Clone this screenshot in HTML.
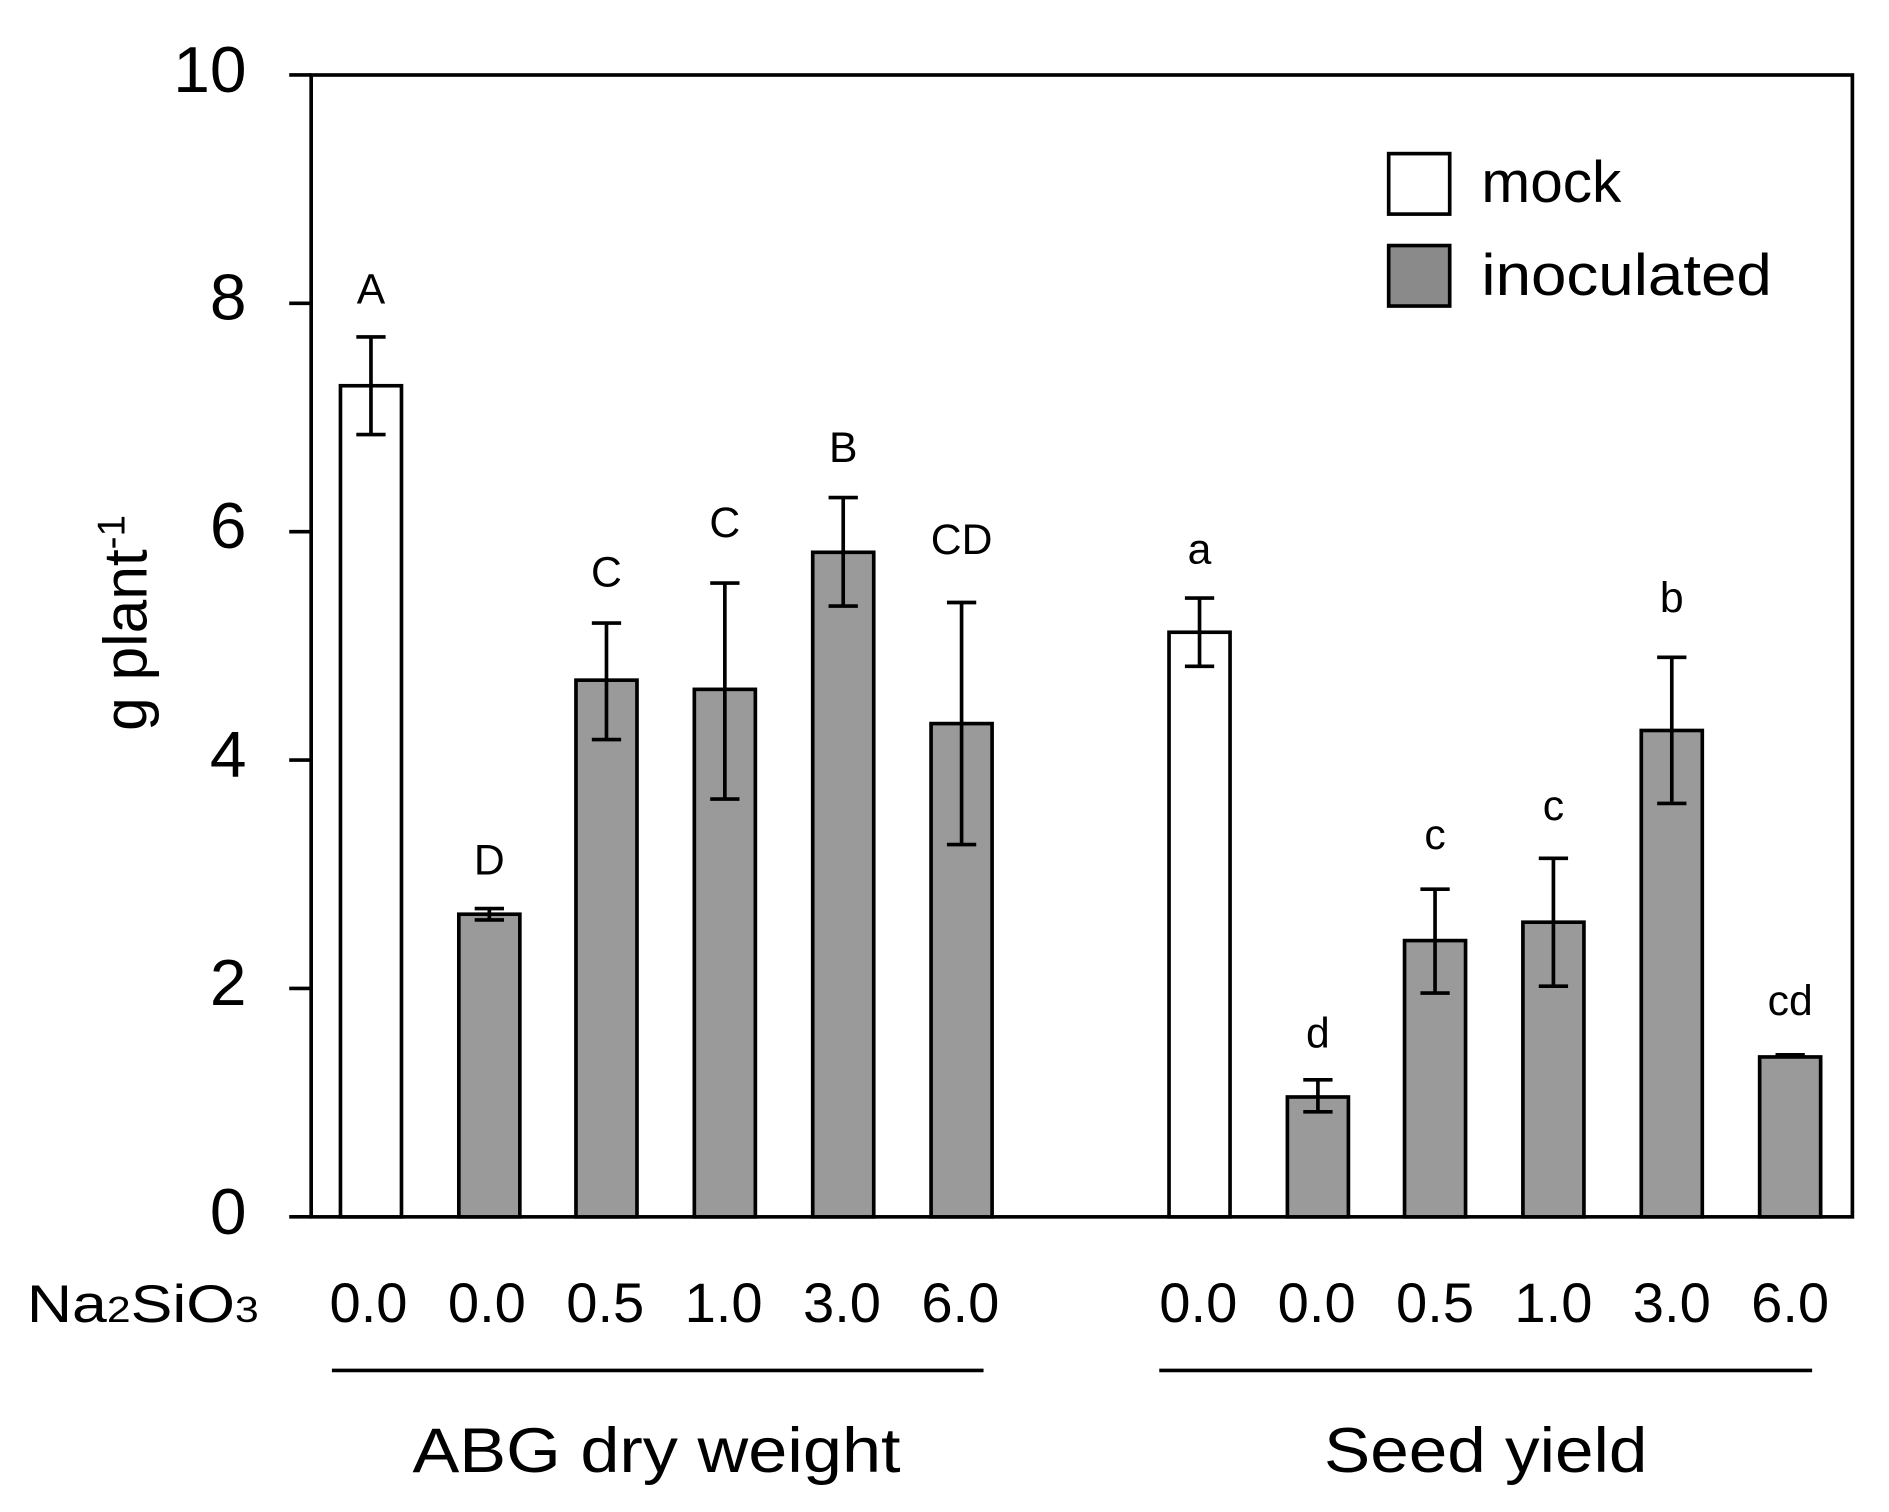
<!DOCTYPE html>
<html><head><style>html,body{margin:0;padding:0;background:#fff}svg{display:block}</style></head><body>
<svg width="1889" height="1512" viewBox="0 0 1548 1250" preserveAspectRatio="none" xmlns="http://www.w3.org/2000/svg" font-family="Liberation Sans, Arial, sans-serif">
<rect width="1548" height="1250" fill="#fff"/>
<g stroke="#000" stroke-width="3" fill="none">
<rect x="255" y="62" width="1263" height="944"/>
<line x1="237" y1="62" x2="255" y2="62"/><line x1="237" y1="250.8" x2="255" y2="250.8"/><line x1="237" y1="439.6" x2="255" y2="439.6"/><line x1="237" y1="628.4" x2="255" y2="628.4"/><line x1="237" y1="817.2" x2="255" y2="817.2"/><line x1="237" y1="1006" x2="255" y2="1006"/>
<line x1="272" y1="1133" x2="806" y2="1133"/><line x1="950" y1="1133" x2="1485" y2="1133"/>
</g>
<g font-size="54" text-anchor="end" fill="#000">
<text x="202" y="76">10</text><text x="202" y="264">8</text><text x="202" y="453">6</text><text x="202" y="642">4</text><text x="202" y="831">2</text><text x="202" y="1020">0</text>
</g>
<text transform="translate(120,515) rotate(-90)" font-size="50" text-anchor="middle">g plant<tspan font-size="32" dy="-18">-1</tspan></text>
<g stroke="#000" stroke-width="3">
<rect x="279" y="318.9" width="50" height="687.1" fill="#fff"/>
<rect x="376" y="755.8" width="50" height="250.2" fill="#9a9a9a"/>
<rect x="472" y="562.3" width="50" height="443.7" fill="#9a9a9a"/>
<rect x="569" y="569.9" width="50" height="436.1" fill="#9a9a9a"/>
<rect x="666" y="456.6" width="50" height="549.4" fill="#9a9a9a"/>
<rect x="763" y="598.2" width="50" height="407.8" fill="#9a9a9a"/>
<rect x="958" y="522.7" width="50" height="483.3" fill="#fff"/>
<rect x="1055" y="906.9" width="50" height="99.1" fill="#9a9a9a"/>
<rect x="1151" y="777.6" width="50" height="228.4" fill="#9a9a9a"/>
<rect x="1248" y="762.4" width="50" height="243.6" fill="#9a9a9a"/>
<rect x="1345" y="603.9" width="50" height="402.1" fill="#9a9a9a"/>
<rect x="1442" y="873.8" width="50" height="132.2" fill="#9a9a9a"/>
<rect x="1138" y="127" width="50" height="50" fill="#fff"/>
<rect x="1138" y="203" width="50" height="50" fill="#8a8a8a"/>
</g>
<g stroke="#000" stroke-width="3" fill="none">
<path d="M304 278.6V359.3M292 278.6H316M292 359.3H316"/>
<path d="M401 751.1V760.5M389 751.1H413M389 760.5H413"/>
<path d="M497 515.1V611.4M485 515.1H509M485 611.4H509"/>
<path d="M594 482.0V660.6M582 482.0H606M582 660.6H606"/>
<path d="M691 411.3V501.0M679 411.3H703M679 501.0H703"/>
<path d="M788 498.1V698.2M776 498.1H800M776 698.2H800"/>
<path d="M983 494.4V550.9M971 494.4H995M971 550.9H995"/>
<path d="M1080 892.7V919.2M1068 892.7H1092M1068 919.2H1092"/>
<path d="M1176 735.1V821.0M1164 735.1H1188M1164 821.0H1188"/>
<path d="M1273 709.6V815.3M1261 709.6H1285M1261 815.3H1285"/>
<path d="M1370 543.4V664.2M1358 543.4H1382M1358 664.2H1382"/>
<path d="M1455 872H1479"/>
</g>
<g font-size="35" text-anchor="middle">
<text x="304" y="251">A</text><text x="401" y="723">D</text><text x="497" y="485">C</text><text x="594" y="444">C</text><text x="691" y="382">B</text><text x="788" y="458">CD</text>
<text x="983" y="466">a</text><text x="1080" y="866">d</text><text x="1176" y="702">c</text><text x="1273" y="678">c</text><text x="1370" y="506">b</text><text x="1467" y="839">cd</text>
</g>
<g font-size="48"><text x="1214" y="167">mock</text><text x="1214" y="244" textLength="238" lengthAdjust="spacingAndGlyphs">inoculated</text></g>
<text x="22" y="1093" font-size="44" textLength="190" lengthAdjust="spacingAndGlyphs">Na<tspan font-size="30">2</tspan>SiO<tspan font-size="30">3</tspan></text>
<g font-size="46" text-anchor="middle">
<text x="302" y="1093">0.0</text><text x="399" y="1093">0.0</text><text x="496" y="1093">0.5</text><text x="593" y="1093">1.0</text><text x="690" y="1093">3.0</text><text x="787" y="1093">6.0</text>
<text x="982" y="1093">0.0</text><text x="1079" y="1093">0.0</text><text x="1176" y="1093">0.5</text><text x="1273" y="1093">1.0</text><text x="1370" y="1093">3.0</text><text x="1467" y="1093">6.0</text>
</g>
<g font-size="52"><text x="338" y="1217" textLength="400" lengthAdjust="spacingAndGlyphs">ABG dry weight</text><text x="1085" y="1217" textLength="265" lengthAdjust="spacingAndGlyphs">Seed yield</text></g>
</svg>
</body></html>
